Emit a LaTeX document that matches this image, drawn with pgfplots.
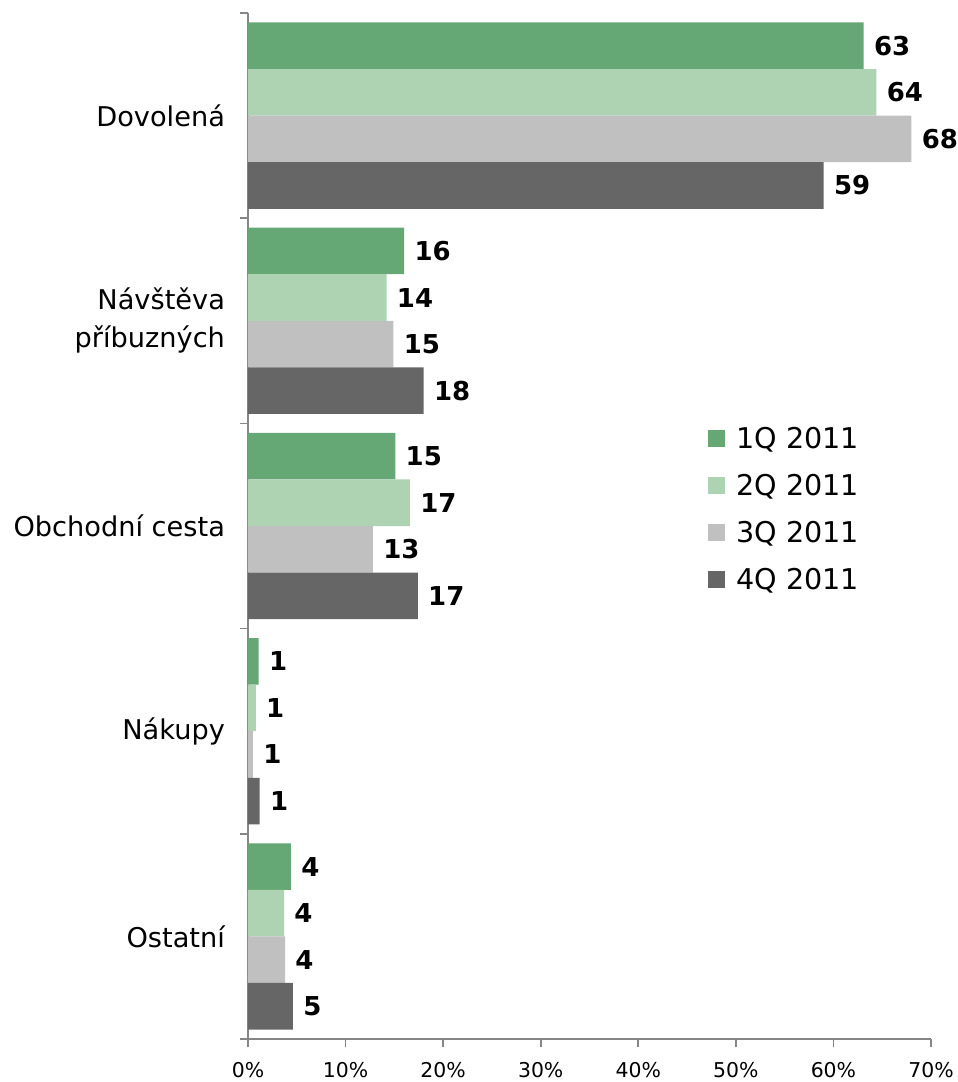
\documentclass[border=0pt]{standalone}
\usepackage{pgfplots}
\pgfplotsset{compat=1.18}
\usepackage{fontspec}
\setmainfont{DejaVu Sans}
\definecolor{q1}{HTML}{66A875}
\definecolor{q2}{HTML}{AED3B3}
\definecolor{q3}{HTML}{C0C0C0}
\definecolor{q4}{HTML}{666666}
\definecolor{axgray}{HTML}{868686}
\begin{document}
\begin{tikzpicture}
\begin{axis}[
  scale only axis, width=341.5pt, height=513pt,
  xbar, bar width=0.227,
  y dir=reverse,
  ymin=-0.5, ymax=4.5, xmin=0, xmax=70,
  axis x line*=bottom, axis y line*=left,
  axis line style={axgray, line width=0.8pt, -},
  tick style={axgray, line width=0.8pt},
  tick align=outside,
  major tick length=4pt, minor tick length=4pt,
  ytick={0,1,2,3,4},
  yticklabels={Dovolená,{Návštěva\\příbuzných},Obchodní cesta,Nákupy,Ostatní},
  yticklabel style={align=right, font=\fontsize{13.6}{19}\selectfont, xshift=-4pt},
  major y tick style={draw=none},
  minor ytick={-0.5,0.5,1.5,2.5,3.5,4.5},
  xtick={0,10,...,70},
  /pgf/number format/assume math mode=true,
  xticklabel={\pgfmathprintnumber{\tick}\%},
  xticklabel style={font=\fontsize{10.2}{12}\selectfont, yshift=-4pt},
  point meta=explicit symbolic,
  nodes near coords,
  nodes near coords style={font=\bfseries\fontsize{13}{15}\selectfont, anchor=west, xshift=4pt, inner sep=1pt, text=black},
  legend style={at={(0.6735,0.596)}, anchor=north west, draw=none, fill=none,
    font=\fontsize{14.3}{17}\selectfont, inner sep=0pt, row sep=13pt, column sep=5.5pt,
    nodes={inner sep=0pt, text height=10.5pt, text depth=0pt}},
  legend cell align=left,
  legend image code/.code={\fill[#1] (0pt,-4.5pt) rectangle (8.5pt,4pt);},
]
\addplot[fill=q1, draw=none, bar shift=-0.3405]
  coordinates {(63.1,0)[63] (16.0,1)[16] (15.1,2)[15] (1.1,3)[1] (4.4,4)[4]};
\addplot[fill=q2, draw=none, bar shift=-0.1135]
  coordinates {(64.4,0)[64] (14.2,1)[14] (16.6,2)[17] (0.8,3)[1] (3.7,4)[4]};
\addplot[fill=q3, draw=none, bar shift=0.1135]
  coordinates {(68.0,0)[68] (14.9,1)[15] (12.8,2)[13] (0.5,3)[1] (3.8,4)[4]};
\addplot[fill=q4, draw=none, bar shift=0.3405]
  coordinates {(59.0,0)[59] (18.0,1)[18] (17.4,2)[17] (1.2,3)[1] (4.6,4)[5]};
\legend{1Q 2011,2Q 2011,3Q 2011,4Q 2011}
\end{axis}
\pgfresetboundingbox
\path (current axis.south west) ++(-124pt,-21.5pt) rectangle ++(479pt,541pt);
\end{tikzpicture}
\end{document}
